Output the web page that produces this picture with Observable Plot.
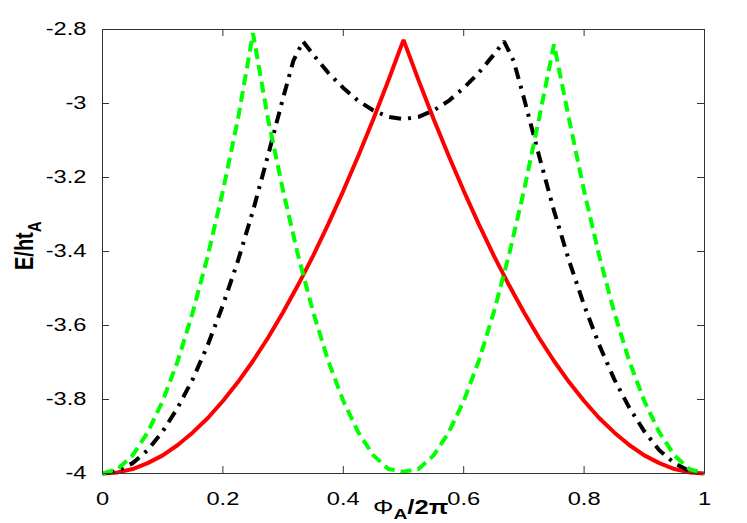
<!DOCTYPE html>
<html><head><meta charset="utf-8">
<script src="https://cdn.jsdelivr.net/npm/d3@7"></script>
<script src="https://cdn.jsdelivr.net/npm/@observablehq/plot@0.6"></script>
<style>body{margin:0;background:#fff} #chart svg{display:block}</style>
</head><body><div id="chart"></div>
<script>
// x values (Phi_A / 2pi)
const phi = [0,0.025,0.05,0.075,0.1,0.125,0.15,0.175,0.2,0.225,0.25,0.275,0.3,0.325,0.35,0.375,0.4,0.425,0.45,0.475,0.5,
             0.525,0.55,0.575,0.6,0.625,0.65,0.675,0.7,0.725,0.75,0.775,0.8,0.825,0.85,0.875,0.9,0.925,0.95,0.975,1];
// red solid series
const eRed = [-4.000,-3.997,-3.988,-3.972,-3.951,-3.923,-3.889,-3.850,-3.804,-3.753,-3.696,-3.633,-3.564,-3.490,-3.411,-3.326,-3.236,-3.141,-3.042,-2.937,-2.828,
              -2.937,-3.042,-3.141,-3.236,-3.326,-3.411,-3.490,-3.564,-3.633,-3.696,-3.753,-3.804,-3.850,-3.889,-3.923,-3.951,-3.972,-3.988,-3.997,-4.000];
// green dashed series
const eGreen = [-4.000,-3.988,-3.951,-3.889,-3.804,-3.696,-3.564,-3.411,-3.236,-3.042,-2.810,-3.042,-3.236,-3.411,-3.564,-3.696,-3.804,-3.889,-3.951,-3.988,-3.995,
                -3.988,-3.951,-3.889,-3.804,-3.696,-3.564,-3.411,-3.236,-3.042,-2.840,-3.042,-3.236,-3.411,-3.564,-3.696,-3.804,-3.889,-3.951,-3.988,-4.000];
// black dash-dot series
const phiBlack = [0,0.025,0.05,0.075,0.1,0.125,0.15,0.175,0.2,0.225,0.25,0.275,0.3,0.317,0.333,0.35,0.375,0.4,0.425,0.45,0.475,0.5,
                  0.525,0.55,0.575,0.6,0.625,0.65,0.667,0.683,0.7,0.725,0.75,0.775,0.8,0.825,0.85,0.875,0.9,0.925,0.95,0.975,1];
const eBlack = [-4.000,-3.993,-3.972,-3.937,-3.886,-3.822,-3.745,-3.652,-3.545,-3.425,-3.290,-3.140,-2.985,-2.885,-2.832,-2.868,-2.917,-2.958,-2.993,-3.019,-3.036,-3.042,
                -3.036,-3.019,-2.993,-2.958,-2.917,-2.868,-2.832,-2.885,-2.985,-3.140,-3.290,-3.425,-3.545,-3.652,-3.745,-3.822,-3.886,-3.937,-3.972,-3.993,-4.000];
// ticks
const xTicks = [0,0.2,0.4,0.6,0.8,1];
const xTickLabels = ["0","0.2","0.4","0.6","0.8","1"];
const yTicks = [-4,-3.8,-3.6,-3.4,-3.2,-3,-2.8];
const yTickLabels = ["-4","-3.8","-3.6","-3.4","-3.2","-3","-2.8"];

const W = 747, H = 523, mL = 102, mR = 43, mT = 29, mB = 50;
const xDom = [0, 1], yDom = [-4, -2.8];
const tickLen = 7;
const dxTick = tickLen * (xDom[1] - xDom[0]) / (W - mL - mR);
const dyTick = tickLen * (yDom[1] - yDom[0]) / (H - mT - mB);

const red = phi.map((x, i) => ({x, y: eRed[i]}));
const green = phi.map((x, i) => ({x, y: eGreen[i]}));
const black = phiBlack.map((x, i) => ({x, y: eBlack[i]}));
const axisColor = "#333";
const lineOpts = {x: "x", y: "y", strokeWidth: 4, strokeLinejoin: "miter", strokeLinecap: "butt"};

const plot = Plot.plot({
  width: W, height: H,
  marginLeft: mL, marginRight: mR, marginTop: mT, marginBottom: mB,
  style: {fontFamily: "'Liberation Sans', Arial, sans-serif", fontSize: "18.5px", color: "#000", background: "#fff"},
  x: {domain: xDom, label: null},
  y: {domain: yDom, label: null},
  marks: [
    Plot.axisX(xTicks, {tickSize: 0, tickPadding: 18, fontSize: 18.5, tickFormat: d => xTickLabels[xTicks.indexOf(d)], label: null}),
    Plot.axisY(yTicks, {tickSize: 0, tickPadding: 16, fontSize: 18.5, tickFormat: d => yTickLabels[yTicks.indexOf(d)], label: null}),
    Plot.ruleX(xTicks.slice(1, -1), {x: d => d, y1: yDom[0], y2: yDom[0] + dyTick, stroke: axisColor}),
    Plot.ruleX(xTicks.slice(1, -1), {x: d => d, y1: yDom[1], y2: yDom[1] - dyTick, stroke: axisColor}),
    Plot.ruleY(yTicks.slice(1, -1), {y: d => d, x1: xDom[0], x2: xDom[0] + dxTick, stroke: axisColor}),
    Plot.ruleY(yTicks.slice(1, -1), {y: d => d, x1: xDom[1], x2: xDom[1] - dxTick, stroke: axisColor}),
    Plot.line(red, {...lineOpts, stroke: "#ff0000"}),
    Plot.line(black, {...lineOpts, stroke: "#000000", strokeDasharray: "12,7,3,7"}),
    Plot.line(green, {...lineOpts, stroke: "#00ff00", strokeDasharray: "11,6"}),
    Plot.frame({stroke: axisColor, strokeWidth: 1})
  ]
});
document.getElementById("chart").appendChild(plot);

// horizontal glyph stretch to match the reference's wide text
const stretch = 1.28;
plot.querySelectorAll("text").forEach(t => {
  let tr = t.getAttribute("transform") || "";
  const xa = t.getAttribute("x");
  if (xa && !isNaN(+xa) && +xa !== 0) { tr += ` translate(${+xa},0)`; t.removeAttribute("x"); }
  t.setAttribute("transform", tr + ` scale(${stretch},1)`);
});

const svg = d3.select(plot);
// y axis label: E/ht_A
const yl = svg.append("text")
  .attr("transform", `translate(33,270) scale(${stretch},1) rotate(-90)`)
  .attr("font-family", "'Liberation Sans', Arial, sans-serif")
  .attr("font-weight", "bold").attr("font-size", 20).attr("fill", "#000")
  .attr("text-anchor", "start");
yl.append("tspan").text("E/ht");
yl.append("tspan").attr("font-size", 15).attr("dy", 6.5).text("A");

// x axis label: Φ_A/2π
const xl = svg.append("text")
  .attr("transform", `translate(373,514) scale(${stretch},1)`)
  .attr("font-family", "'Liberation Sans', Arial, sans-serif")
  .attr("font-size", 20).attr("fill", "#000")
  .attr("text-anchor", "start");
xl.append("tspan").text("Φ");
xl.append("tspan").attr("font-weight", "bold").attr("font-size", 15).attr("dy", 5).text("A");
xl.append("tspan").attr("font-weight", "bold").attr("font-size", 20).attr("dy", -5).text("/2π");
</script>
</body></html>
